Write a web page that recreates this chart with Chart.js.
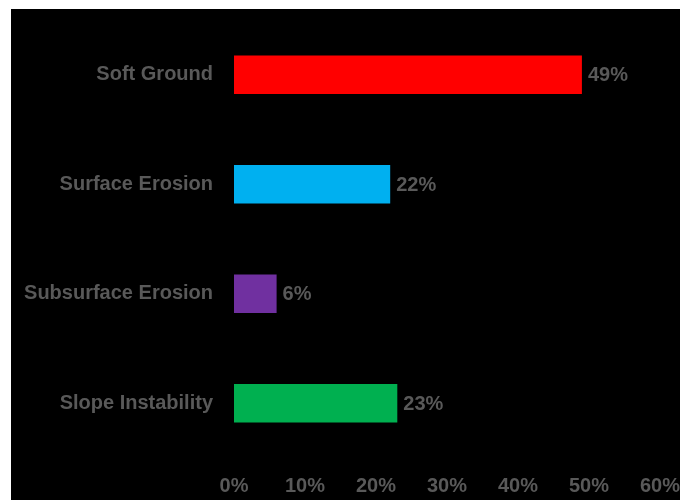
<!DOCTYPE html>
<html>
<head>
<meta charset="utf-8">
<script src="https://cdn.jsdelivr.net/npm/chart.js@4"></script>
<style>
  html, body { margin: 0; padding: 0; background: #fff; }
  #wrap { position: absolute; left: 11px; top: 9px; width: 669px; height: 491px; background: #000; }
</style>
</head>
<body>
<div id="wrap"><canvas id="chartCausas"></canvas></div>
<script>
const categories = ['Soft Ground', 'Surface Erosion', 'Subsurface Erosion', 'Slope Instability'];
const shares = [49, 22, 6, 23];
const barColors = ['#ff0000', '#00b0f0', '#7030a0', '#00b050'];
const xTicks = [0, 10, 20, 30, 40, 50, 60];

const textGray = '#595959';
const font = { family: '"Liberation Sans", Arial, sans-serif', size: 20, weight: 'bold' };

// writes "NN%" just past the end of each bar
const valueLabels = {
    id: 'valueLabels',
    afterDatasetsDraw(chart) {
        const ctx = chart.ctx;
        const meta = chart.getDatasetMeta(0);
        ctx.save();
        ctx.font = 'bold ' + font.size + 'px ' + font.family;
        ctx.fillStyle = textGray;
        ctx.textAlign = 'left';
        ctx.textBaseline = 'middle';
        meta.data.forEach(function (bar, i) {
            ctx.fillText(shares[i] + '%', bar.x + 6, bar.y + 1);
        });
        ctx.restore();
    }
};

new Chart(document.getElementById('chartCausas').getContext('2d'), {
    type: 'bar',
    data: {
        labels: categories,
        datasets: [{
            data: shares,
            backgroundColor: barColors,
            borderWidth: 0,
            categoryPercentage: 1,
            barPercentage: 0.35
        }]
    },
    options: {
        indexAxis: 'y',
        responsive: true,
        maintainAspectRatio: false,
        animation: false,
        layout: { padding: { top: 11, bottom: 0, left: 0, right: 0 } },
        plugins: { legend: { display: false }, tooltip: { enabled: false } },
        scales: {
            x: {
                min: 0,
                max: 60,
                afterBuildTicks: function (scale) {
                    scale.ticks = xTicks.map(function (v) { return { value: v }; });
                },
                grid: { display: false, drawTicks: false },
                border: { display: false },
                ticks: {
                    color: textGray,
                    font: font,
                    padding: 16,
                    maxRotation: 0,
                    callback: function (v) { return v + '%'; }
                },
                afterFit: function (scale) {
                    scale.height = 42;
                    scale.paddingRight = 20;
                    scale.paddingLeft = 0;
                    scale.paddingTop = 0;
                    scale.paddingBottom = 0;
                }
            },
            y: {
                grid: { display: false, drawTicks: false },
                border: { display: false },
                ticks: { color: textGray, font: font, padding: 21 },
                afterFit: function (scale) {
                    scale.width = 223;
                    scale.paddingTop = 0;
                    scale.paddingBottom = 0;
                }
            }
        }
    },
    plugins: [valueLabels]
});
</script>
</body>
</html>
